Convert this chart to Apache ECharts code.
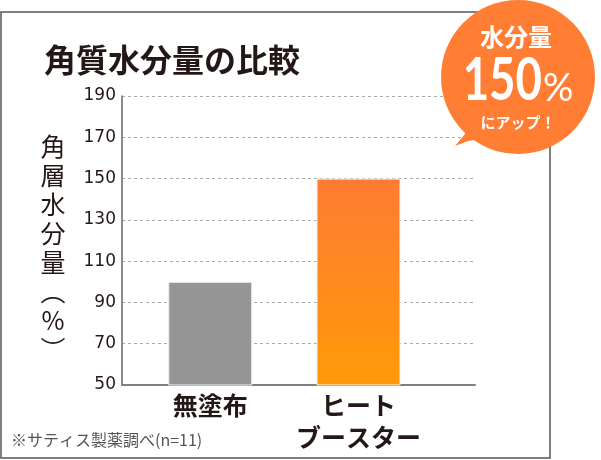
<!DOCTYPE html>
<html>
<head>
<meta charset="utf-8">
<script src="https://cdn.jsdelivr.net/npm/echarts@6/dist/echarts.min.js"></script>
<style>
  html, body { margin: 0; padding: 0; background: #fff; }
  #chart { width: 601px; height: 460px; }
</style>
</head>
<body>
<div id="chart"></div>
<script>
// データ
const categories = ['無塗布', 'ヒート\nブースター'];
const values = [100, 150];
const slots = [25, 67];           // 横軸上の棒の位置 (0〜100)
const yTicks = [50, 190, 20];     // min, max, interval
const yName = ['角', '層', '水', '分', '量', '︵', '%', '︶'];

const JP = '"Noto Sans CJK JP", "Noto Sans", sans-serif';
const ink = '#231815';

document.addEventListener('DOMContentLoaded', function() {
    const chart = echarts.init(document.getElementById('chart'));

    const barColors = [
        '#959595',
        new echarts.graphic.LinearGradient(0, 0, 0, 1, [
            { offset: 0, color: '#FF7B33' },
            { offset: 1, color: '#FF9A08' }
        ])
    ];

    const option = {
        animation: false,
        grid: { left: 122, right: 126, top: 96, bottom: 75 },
        xAxis: {
            type: 'value',
            min: 0,
            max: 100,
            splitLine: { show: false },
            axisTick: { show: false },
            axisLine: { show: true, lineStyle: { color: '#808080', width: 2 } },
            axisLabel: {
                customValues: slots,
                formatter: function(v) {
                    const i = slots.indexOf(v);
                    return i >= 0 ? categories[i] : '';
                },
                margin: 4,
                fontSize: 25,
                fontWeight: 'bold',
                lineHeight: 32,
                fontFamily: JP,
                color: ink
            }
        },
        yAxis: {
            type: 'value',
            min: yTicks[0],
            max: yTicks[1],
            interval: yTicks[2],
            axisLine: { show: true, lineStyle: { color: '#666', width: 1.5 } },
            axisTick: { show: false },
            axisLabel: {
                margin: 6,
                fontSize: 17,
                fontFamily: '"DejaVu Sans", sans-serif',
                color: ink
            },
            splitLine: {
                show: true,
                lineStyle: { color: '#aaa', width: 1, type: [3, 3] }
            }
        },
        series: [{
            type: 'bar',
            barWidth: 84,
            data: values.map(function(v, i) {
                return {
                    value: [slots[i], v],
                    itemStyle: { color: barColors[i], borderColor: '#f2f2f2', borderWidth: 1 }
                };
            })
        }],
        graphic: [
            // 枠
            {
                type: 'rect', z: 0, silent: true,
                shape: { x: 1, y: 12, width: 549, height: 446 },
                style: { fill: 'none', stroke: '#555', lineWidth: 1.5 }
            },
            // タイトル
            {
                type: 'text', z: 5, x: 44, y: 60,
                style: {
                    text: '角質水分量の比較', font: 'bold 32px ' + JP, fill: ink,
                    verticalAlign: 'middle'
                }
            },
            // 縦軸タイトル
            {
                type: 'text', z: 5, x: 53, y: 132,
                style: {
                    text: yName.join('\n'), font: '25px ' + JP, fill: ink,
                    lineHeight: 29, align: 'center', verticalAlign: 'top'
                }
            },
            // 注記
            {
                type: 'text', z: 5, x: 11, y: 440,
                style: {
                    text: '※サティス製薬調べ(n=11)', font: '16px ' + JP, fill: '#555',
                    verticalAlign: 'middle'
                }
            },
            // 吹き出し
            {
                type: 'polygon', z: 10, silent: true,
                shape: { points: [[466, 104], [468, 120], [465, 134], [455, 146], [468, 141], [482, 139], [500, 141]] },
                style: { fill: '#FF7E33' }
            },
            {
                type: 'circle', z: 10, silent: true,
                shape: { cx: 518, cy: 77, r: 77 },
                style: { fill: '#FF7E33' }
            },
            {
                type: 'text', z: 11, x: 516, y: 37,
                style: {
                    text: '水分量', font: 'bold 24px ' + JP, fill: '#fff',
                    align: 'center', verticalAlign: 'middle'
                }
            },
            {
                type: 'text', z: 11, x: 542, y: 81, scaleX: 0.76,
                style: {
                    text: '150', font: 'bold 60px Lato, sans-serif', fill: '#fff',
                    align: 'right', verticalAlign: 'middle'
                }
            },
            {
                type: 'text', z: 11, x: 543, y: 89,
                style: {
                    text: '%', font: '38px Lato, sans-serif', fill: '#fff',
                    align: 'left', verticalAlign: 'middle'
                }
            },
            {
                type: 'text', z: 11, x: 518, y: 122,
                style: {
                    text: 'にアップ！', font: 'bold 15px ' + JP, fill: '#fff',
                    align: 'center', verticalAlign: 'middle'
                }
            }
        ]
    };

    chart.setOption(option);
});
</script>
</body>
</html>
